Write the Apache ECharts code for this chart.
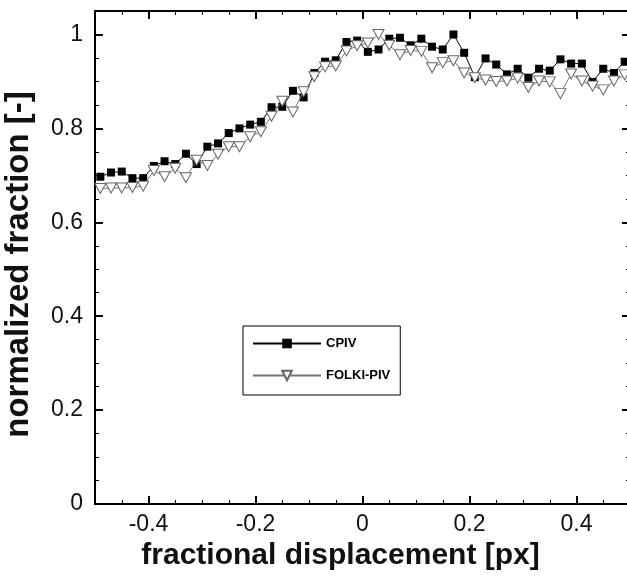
<!DOCTYPE html>
<html>
<head>
<meta charset="utf-8">
<script src="https://cdn.jsdelivr.net/npm/echarts@6/dist/echarts.min.js"></script>
<style>
html,body{margin:0;padding:0;background:#fff;}
#chart{width:627px;height:580px;}
</style>
</head>
<body>
<div id="chart"></div>
<script>
// fractional displacement [px]
const xValues = [-0.49,-0.47,-0.45,-0.43,-0.41,-0.39,-0.37,-0.35,-0.33,-0.31,
  -0.29,-0.27,-0.25,-0.23,-0.21,-0.19,-0.17,-0.15,-0.13,-0.11,
  -0.09,-0.07,-0.05,-0.03,-0.01,0.01,0.03,0.05,0.07,0.09,
  0.11,0.13,0.15,0.17,0.19,0.21,0.23,0.25,0.27,0.29,
  0.31,0.33,0.35,0.37,0.39,0.41,0.43,0.45,0.47,0.49];
const cpivValues = [0.697,0.706,0.708,0.694,0.694,0.720,0.730,0.724,0.746,0.724,
  0.761,0.768,0.790,0.800,0.808,0.814,0.845,0.846,0.880,0.866,
  0.918,0.942,0.945,0.984,0.987,0.963,0.968,0.991,0.993,0.977,
  0.991,0.974,0.968,1.000,0.961,0.909,0.949,0.936,0.915,0.927,
  0.908,0.927,0.923,0.947,0.938,0.938,0.899,0.927,0.918,0.942];
const folkiValues = [0.672,0.673,0.673,0.674,0.677,0.710,0.697,0.715,0.695,0.732,
  0.721,0.745,0.761,0.761,0.782,0.793,0.826,0.858,0.835,0.878,
  0.910,0.931,0.933,0.965,0.976,0.982,1.000,0.977,0.957,0.966,
  0.964,0.929,0.940,0.944,0.918,0.908,0.903,0.900,0.901,0.907,
  0.887,0.901,0.899,0.874,0.916,0.901,0.890,0.882,0.901,0.914];
const xTickLabels = [-0.4,-0.2,0,0.2,0.4];
const xMajorTicks = [-0.4,-0.2,0,0.2,0.4];
const xMinorTicks = [-0.45,-0.35,-0.3,-0.25,-0.15,-0.1,-0.05,0.05,0.1,0.15,0.25,0.3,0.35,0.45];
const yTickLabels = [0,0.2,0.4,0.6,0.8,1];
const yMajorTicks = [0,0.2,0.4,0.6,0.8,1];
const yMinorTicks = [0.05,0.1,0.15,0.25,0.3,0.35,0.45,0.5,0.55,0.65,0.7,0.75,0.85,0.9,0.95];

const FONT = '"Liberation Sans", Arial, sans-serif';
const cpivData = xValues.map((x, i) => [x, cpivValues[i]]);
const folkiData = xValues.map((x, i) => [x, folkiValues[i]]);

function mkAxis(kind, pos, ticks, len, opts) {
  const base = {
    type: 'value',
    position: pos,
    min: kind === 'x' ? -0.5 : 0,
    max: kind === 'x' ? 0.5 : 1.05,
    splitLine: {show: false},
    axisLine: {show: true, onZero: false, lineStyle: {color: '#000', width: 2}},
    axisTick: {show: true, inside: true, length: len, customValues: ticks,
      lineStyle: {color: '#000', width: len > 5 ? 2 : 1}},
    axisLabel: {show: false},
    minorTick: {show: false}
  };
  return Object.assign(base, opts || {});
}

const chart = echarts.init(document.getElementById('chart'), null, {renderer: 'canvas'});
chart.setOption({
  animation: false,
  backgroundColor: '#fff',
  grid: {left: 95, right: -3, top: 11, bottom: 76, containLabel: false, outerBoundsMode: 'none'},
  xAxis: [
    mkAxis('x', 'bottom', xMajorTicks, 8, {
      name: 'fractional displacement [px]',
      nameLocation: 'middle',
      nameGap: 35,
      nameTextStyle: {fontFamily: FONT, fontSize: 30, fontWeight: 'bold', color: '#111', padding: [0, 44, 0, 0]},
      axisLabel: {show: true, customValues: xTickLabels, margin: 9,
        fontFamily: FONT, fontSize: 23, color: '#111',
        formatter: v => String(Math.round(v * 10) / 10)}
    }),
    mkAxis('x', 'bottom', xMinorTicks, 4),
    mkAxis('x', 'top', xMajorTicks, 8),
    mkAxis('x', 'top', xMinorTicks, 4)
  ],
  yAxis: [
    mkAxis('y', 'left', yMajorTicks, 8, {
      name: 'normalized fraction [-]',
      nameLocation: 'middle',
      nameGap: 60,
      nameRotate: 90,
      nameTextStyle: {fontFamily: FONT, fontSize: 33, fontWeight: 'bold', color: '#111', padding: [0, 14, 0, 0]},
      axisLabel: {show: true, customValues: yTickLabels, margin: 12,
        fontFamily: FONT, fontSize: 23, color: '#111',
        formatter: v => String(Math.round(v * 10) / 10)}
    }),
    mkAxis('y', 'left', yMinorTicks, 4),
    mkAxis('y', 'right', yMajorTicks, 8),
    mkAxis('y', 'right', yMinorTicks, 4)
  ],
  legend: {
    data: ['CPIV', 'FOLKI-PIV'],
    orient: 'vertical',
    left: 243,
    top: 326,
    padding: [11, 10, 13, 9],
    itemWidth: 68,
    itemHeight: 12,
    itemGap: 19,
    backgroundColor: '#fff',
    borderColor: '#000',
    borderWidth: 1,
    borderRadius: 0,
    textStyle: {fontFamily: FONT, fontSize: 13, fontWeight: 'bold', color: '#000'}
  },
  series: [
    {
      name: 'CPIV',
      type: 'line',
      xAxisIndex: 0,
      yAxisIndex: 0,
      data: cpivData,
      symbol: 'rect',
      symbolSize: 8,
      lineStyle: {color: '#000', width: 1},
      itemStyle: {color: '#000', borderColor: '#000', borderWidth: 0},
      z: 2
    },
    {
      name: 'FOLKI-PIV',
      type: 'line',
      xAxisIndex: 0,
      yAxisIndex: 0,
      data: folkiData,
      symbol: 'triangle',
      symbolRotate: 180,
      symbolSize: [11, 10],
      showAllSymbol: true,
      lineStyle: {color: '#777', width: 1},
      itemStyle: {color: '#fff', borderColor: '#666', borderWidth: 1},
      z: 3
    }
  ]
});
</script>
</body>
</html>
